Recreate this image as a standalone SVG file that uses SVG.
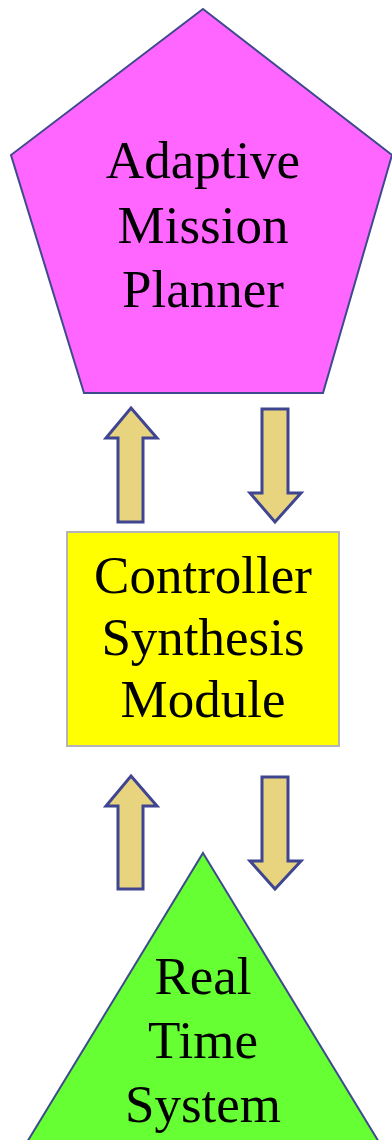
<svg xmlns="http://www.w3.org/2000/svg" width="392" height="1140" viewBox="0 0 392 1140">
<style>
.t{font-family:"Liberation Serif","Times New Roman",serif;font-size:53px;fill:#000;text-anchor:middle}
.arr{fill:#e8d47e;stroke:#3f4590;stroke-width:3;stroke-linejoin:miter}
</style>
<rect width="392" height="1140" fill="#fff"/>
<g id="planner">
<polygon points="203,9 392,155 323,393 84,393 11,155" fill="#ff66ff" stroke="#3f4a8c" stroke-width="2"/>
<text class="t" x="203" y="178">Adaptive</text>
<text class="t" x="203" y="243">Mission</text>
<text class="t" x="203" y="307">Planner</text>
</g>
<g id="synthesis">
<rect x="67" y="532" width="272" height="214" fill="#ffff00" stroke="#b4b4b4" stroke-width="2"/>
<text class="t" x="203" y="593">Controller</text>
<text class="t" x="203" y="655">Synthesis</text>
<text class="t" x="203" y="717">Module</text>
</g>
<g id="realtime">
<polygon points="203,853 385,1152 21,1152" fill="#66ff33" stroke="#3f4a8c" stroke-width="2"/>
<text class="t" x="203" y="994">Real</text>
<text class="t" x="203" y="1058">Time</text>
<text class="t" x="203" y="1122">System</text>
</g>
<g id="connectors">
<polygon class="arr" points="131,408 157,438 143,438 143,522 118,522 118,438 106,438"/>
<polygon class="arr" points="262,409 288,409 288,493 301,493 275,522 250,493 262,493"/>
<polygon class="arr" points="131,776 157,806 143,806 143,889 118,889 118,806 106,806"/>
<polygon class="arr" points="262,777 288,777 288,861 301,861 275,889 250,861 262,861"/>
</g>
</svg>
